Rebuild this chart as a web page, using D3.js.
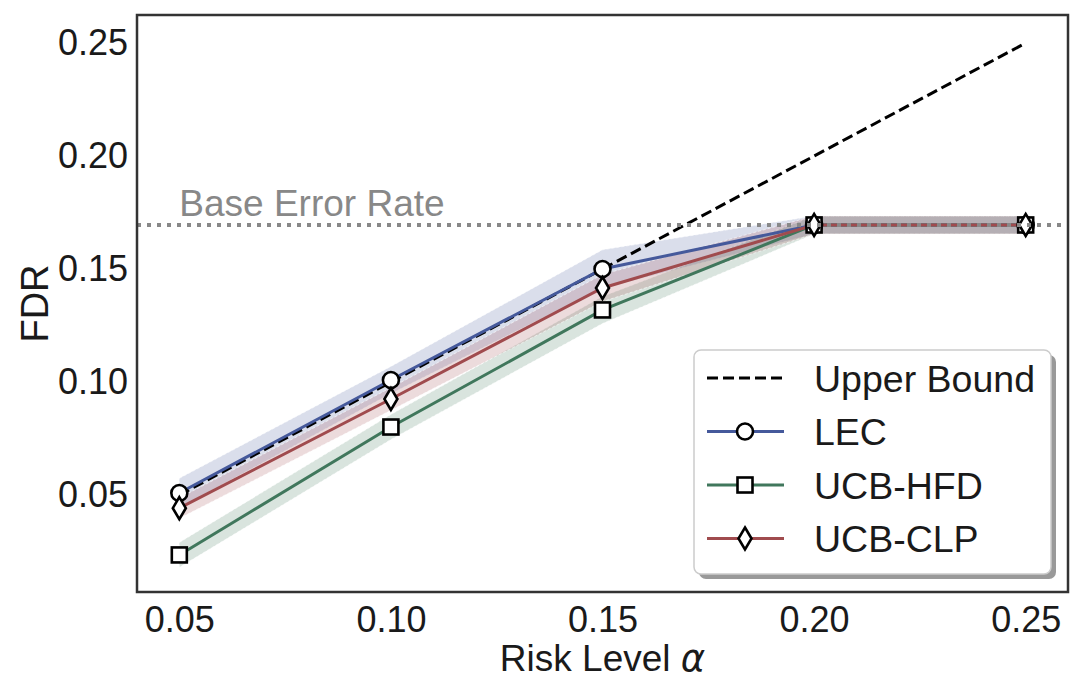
<!DOCTYPE html>
<html>
<head>
<meta charset="utf-8">
<script src="https://cdn.jsdelivr.net/npm/d3@7"></script>
<style>
  body { margin: 0; background: #fff; }
  svg { display: block; font-family: "Liberation Sans", Arial, sans-serif; }
</style>
</head>
<body>
<svg id="chart" width="1083" height="692"></svg>
<script>
// risk levels on the x axis
const alphas = [0.05, 0.10, 0.15, 0.20, 0.25];
const xTicks = [0.05, 0.10, 0.15, 0.20, 0.25];
const yTicks = [0.05, 0.10, 0.15, 0.20, 0.25];

// FDR means and spread of each method
const upperBound = [0.05, 0.10, 0.15, 0.20, 0.25];
const lec = [0.0509, 0.1009, 0.1500, 0.1695, 0.1695];
const lecSd = [0.0065, 0.006, 0.0085, 0.004, 0.004];
const hfd = [0.0235, 0.0801, 0.1319, 0.1695, 0.1695];
const hfdSd = [0.0055, 0.0055, 0.006, 0.004, 0.004];
const clp = [0.0442, 0.0925, 0.1416, 0.1695, 0.1695];
const clpSd = [0.0045, 0.005, 0.006, 0.004, 0.004];
const baseErrorRate = 0.1695;

const svg = d3.select('#chart');
const mLeft = 137, mRight = 1068, mTop = 15, mBottom = 592;

const x = d3.scaleLinear().domain([0.04, 0.26]).range([mLeft, mRight]);
const y = d3.scaleLinear().domain([0.0071, 0.2624]).range([mBottom, mTop]);

const series = [
  { name: 'LEC', vals: lec, sd: lecSd, color: '#45599b', marker: 'circle' },
  { name: 'UCB-HFD', vals: hfd, sd: hfdSd, color: '#40775c', marker: 'square' },
  { name: 'UCB-CLP', vals: clp, sd: clpSd, color: '#a04b4e', marker: 'diamond' },
];

// marker shapes
function drawMarker(g, kind, cx, cy) {
  let m;
  if (kind === 'circle') {
    m = g.append('circle').attr('cx', cx).attr('cy', cy).attr('r', 8);
  } else if (kind === 'square') {
    m = g.append('rect').attr('x', cx - 7.5).attr('y', cy - 7.5).attr('width', 15).attr('height', 15);
  } else {
    m = g.append('path').attr('d', `M${cx},${cy - 11}L${cx + 6.5},${cy}L${cx},${cy + 11}L${cx - 6.5},${cy}Z`);
  }
  m.attr('fill', '#fff').attr('stroke', '#000').attr('stroke-width', 2.6);
}

// shaded bands
const bands = svg.append('g');
series.forEach(s => {
  const area = d3.area()
    .x((d, i) => x(alphas[i]))
    .y0((d, i) => y(d - s.sd[i]))
    .y1((d, i) => y(d + s.sd[i]));
  bands.append('path')
    .datum(s.vals)
    .attr('d', area)
    .attr('fill', s.color)
    .attr('fill-opacity', 0.2)
    .attr('stroke', '#fff')
    .attr('stroke-opacity', 0.7)
    .attr('stroke-width', 0.8)
    .attr('stroke-dasharray', '3,2');
});

// upper bound
const line = d3.line().x((d, i) => x(alphas[i])).y(d => y(d));
svg.append('path')
  .datum(upperBound)
  .attr('d', line)
  .attr('fill', 'none')
  .attr('stroke', '#000')
  .attr('stroke-width', 3)
  .attr('stroke-dasharray', '11,5');

// method lines
series.forEach(s => {
  svg.append('path')
    .datum(s.vals)
    .attr('d', line)
    .attr('fill', 'none')
    .attr('stroke', s.color)
    .attr('stroke-width', 3);
});

// markers
const marks = svg.append('g');
series.forEach(s => {
  s.vals.forEach((d, i) => drawMarker(marks, s.marker, x(alphas[i]), y(d)));
});

// base error rate
svg.append('line')
  .attr('x1', mLeft).attr('x2', mRight)
  .attr('y1', y(baseErrorRate)).attr('y2', y(baseErrorRate))
  .attr('stroke', '#888')
  .attr('stroke-width', 4)
  .attr('stroke-dasharray', '4,6');
svg.append('text')
  .attr('x', x(0.05))
  .attr('y', y(baseErrorRate) - 9)
  .attr('fill', '#888')
  .attr('font-size', 37)
  .text('Base Error Rate');

// axes
const xAxis = svg.append('g')
  .attr('transform', `translate(0,${mBottom})`)
  .call(d3.axisBottom(x).tickValues(xTicks).tickFormat(d3.format('.2f')).tickSize(0).tickPadding(14));
const yAxis = svg.append('g')
  .attr('transform', `translate(${mLeft},0)`)
  .call(d3.axisLeft(y).tickValues(yTicks).tickFormat(d3.format('.2f')).tickSize(0).tickPadding(9));
[xAxis, yAxis].forEach(g => {
  g.select('.domain').remove();
  g.selectAll('text').attr('font-size', 36).attr('fill', '#1a1a1a')
    .style('font-family', '"Liberation Sans", Arial, sans-serif');
});
xAxis.selectAll('text').attr('dy', '0.71em');

// frame
svg.append('rect')
  .attr('x', mLeft).attr('y', mTop)
  .attr('width', mRight - mLeft).attr('height', mBottom - mTop)
  .attr('fill', 'none')
  .attr('stroke', '#333')
  .attr('stroke-width', 2.5);

// axis labels
const xl = svg.append('text')
  .attr('x', (mLeft + mRight) / 2)
  .attr('y', 671)
  .attr('text-anchor', 'middle')
  .attr('font-size', 37)
  .attr('fill', '#1a1a1a');
xl.append('tspan').text('Risk Level ');
xl.append('tspan').attr('font-style', 'italic').attr('font-family', '"DejaVu Sans"').text('α');

svg.append('text')
  .attr('transform', `translate(48,${(mTop + mBottom) / 2}) rotate(-90)`)
  .attr('text-anchor', 'middle')
  .attr('font-size', 38)
  .attr('fill', '#1a1a1a')
  .text('FDR');

// legend
const lg = svg.append('g').attr('transform', 'translate(694,350)');
lg.append('rect').attr('x', 5).attr('y', 5).attr('width', 357).attr('height', 224)
  .attr('rx', 7).attr('fill', '#999');
lg.append('rect').attr('x', 0).attr('y', 0).attr('width', 357).attr('height', 224)
  .attr('rx', 7).attr('fill', '#fff').attr('stroke', '#ccc').attr('stroke-width', 1.5);

const legendItems = [
  { name: 'Upper Bound', color: '#000', marker: null, dash: '11,5' },
  ...series.map(s => ({ name: s.name, color: s.color, marker: s.marker, dash: null })),
];
legendItems.forEach((it, i) => {
  const cy = 28 + i * 53.5;
  lg.append('line')
    .attr('x1', 13).attr('x2', 90)
    .attr('y1', cy).attr('y2', cy)
    .attr('stroke', it.color)
    .attr('stroke-width', 3)
    .attr('stroke-dasharray', it.dash);
  if (it.marker) drawMarker(lg, it.marker, 51, cy);
  lg.append('text')
    .attr('x', 120).attr('y', cy)
    .attr('dy', '0.36em')
    .attr('font-size', 37.5)
    .attr('fill', '#1a1a1a')
    .text(it.name);
});
</script>
</body>
</html>
